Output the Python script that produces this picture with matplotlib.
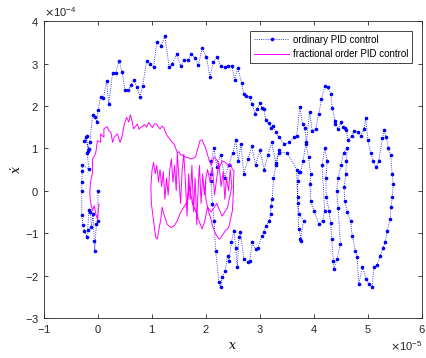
import numpy as np
import matplotlib
matplotlib.use("Agg")
import matplotlib.pyplot as plt
from matplotlib.ticker import ScalarFormatter

# ordinary PID control trajectory (x in 1e-5, xdot in 1e-4)
pid_x = [0.0, 0.0, -0.03, -0.06, -0.07, -0.09, -0.12, -0.14, -0.17, -0.19, -0.21, -0.25, -0.28, -0.3, -0.3,
         -0.3, -0.29, -0.29, -0.17, -0.2, -0.17, -0.23, -0.25, -0.21, -0.19, -0.15, -0.1, -0.06, -0.02, 0.0,
         0.05, 0.1, 0.16, 0.2, 0.27, 0.33, 0.39, 0.45, 0.5, 0.56, 0.62, 0.67, 0.72, 0.78, 0.83,
         0.9, 0.96, 1.03, 1.09, 1.17, 1.24, 1.32, 1.38, 1.46, 1.53, 1.59, 1.67, 1.73, 1.8, 1.86,
         1.93, 2.01, 2.07, 2.14, 2.21, 2.27, 2.35, 2.41, 2.48, 2.53, 2.59, 2.66, 2.7, 2.75, 2.81,
         2.86, 2.91, 2.95, 3.0, 3.04, 3.07, 3.11, 3.16, 3.21, 3.25, 3.29, 3.35, 3.45, 3.54, 3.63,
         3.68, 3.74, 3.79, 3.83, 3.86, 3.92, 3.97, 4.03, 4.09, 4.14, 4.2, 4.26, 4.31, 4.34, 4.39,
         4.4, 4.45, 4.5, 4.53, 4.57, 4.6, 4.63, 4.7, 4.75, 4.81, 4.87, 4.93, 4.96, 5.0, 5.05,
         5.1, 5.15, 5.2, 5.27, 5.3, 5.34, 5.38, 5.42, 5.45, 5.47, 5.45, 5.43, 5.41, 5.36, 5.32,
         5.28, 5.23, 5.17, 5.11, 5.08, 5.02, 4.97, 4.9, 4.83, 4.8, 4.77, 4.71, 4.68, 4.62, 4.57,
         4.56, 4.59, 4.6, 4.62, 4.55, 4.5, 4.45, 4.42, 4.45, 4.49, 4.43, 4.37, 4.36, 4.33, 4.31,
         4.28, 4.23, 4.22, 4.25, 4.2, 4.15, 4.2, 4.16, 4.09, 4.0, 3.94, 3.93, 3.94, 3.9, 3.85,
         3.8, 3.75, 3.72, 3.7, 3.7, 3.72, 3.81, 3.75, 3.77, 3.72, 3.7, 3.68, 3.5, 3.35, 3.3,
         3.25, 3.23, 3.2, 3.2, 3.17, 3.11, 3.07, 3.04, 2.96, 2.92, 2.86, 2.81, 2.77, 2.7, 2.64,
         2.61, 2.58, 2.55, 2.52, 2.47, 2.43, 2.4, 2.36, 2.3, 2.27, 2.24, 2.18, 2.15, 2.12, 2.09,
         2.09, 2.1, 2.15, 2.2, 2.27, 2.35, 2.42, 2.5, 2.55, 2.6, 2.65, 2.7, 2.78, 2.85, 2.92,
         3.0, 3.08, 3.15, 3.22, 3.29, 3.36]
pid_v = [0.0, -0.71, -0.79, -1.42, -1.18, -0.55, -0.85, -0.51, -0.46, -0.93, -1.08, -0.94, -0.8, -0.57, 0.0,
         0.21, 0.47, 0.61, 0.51, 0.9, 0.98, 1.26, 1.18, 1.28, 0.93, 1.16, 1.79, 1.73, 1.63, 1.9,
         2.22, 2.18, 2.59, 2.04, 2.77, 2.77, 3.07, 2.79, 2.37, 2.37, 2.5, 2.61, 2.44, 2.22, 2.48,
         3.05, 2.99, 2.91, 3.51, 3.42, 3.64, 2.91, 3.0, 3.22, 2.95, 3.08, 3.08, 3.22, 3.14, 2.96,
         3.36, 3.16, 2.69, 3.04, 3.16, 2.93, 2.91, 2.93, 2.95, 2.62, 2.89, 2.55, 2.28, 2.24, 2.2,
         2.04, 1.82, 1.93, 2.06, 1.95, 1.93, 1.67, 1.6, 1.49, 1.53, 1.38, 1.26, 1.1, 1.14, 1.26,
         1.3, 1.98, 1.57, 1.49, 1.14, 1.85, 1.4, 1.45, 1.81, 2.16, 2.46, 2.44, 2.28, 1.96, 1.65,
         1.57, 1.45, 1.61, 1.51, 1.49, 1.43, 1.19, 1.3, 1.4, 1.39, 1.3, 1.45, 1.71, 1.2, 0.9,
         0.7, 0.55, 0.7, 1.24, 1.43, 1.27, 1.0, 0.85, 0.39, 0.16, -0.16, -0.39, -0.67, -0.94, -1.22,
         -1.34, -1.53, -1.75, -1.81, -2.28, -2.2, -2.08, -1.81, -2.2, -1.57, -1.42, -1.06, -0.71, -0.51, -0.24,
         0.08, 0.39, 0.7, 1.0, 0.9, 0.6, 0.3, 0.0, -0.4, -1.26, -1.61, -1.85, -1.65, -1.14, -0.75,
         -0.47, -0.16, 0.3, 0.7, 1.0, 0.6, -0.47, -0.71, -0.79, -0.47, -0.24, 0.16, 0.39, 0.8, 1.1,
         0.7, 0.43, 0.43, 0.24, -0.16, -0.55, -0.71, -1.14, -1.18, -0.9, -0.3, 0.5, 0.9, 0.9, 0.6,
         0.3, -0.2, -0.35, -0.55, -0.71, -0.83, -0.98, -1.06, -1.34, -1.38, -1.22, -1.65, -1.67, -1.61, -0.98,
         -1.1, -1.81, -1.34, -0.94, -1.22, -1.65, -1.53, -1.89, -2.04, -2.28, -2.16, -1.42, -0.71, -0.31, 0.24,
         0.39, 0.7, 1.0, 0.55, 0.85, 0.3, 0.6, 0.9, 1.2, 0.7, 1.1, 0.4, 0.75, 1.05, 0.6,
         0.95, 0.5, 0.85, 1.15, 0.66, 0.95]

# fractional order PID control trajectory
fopid_x = [0.02, -0.01, -0.04, -0.07, -0.1, -0.14, -0.15, -0.14, -0.1, -0.1, -0.06, -0.04, -0.01, 0.05, 0.05,
           0.11, 0.11, 0.17, 0.2, 0.24, 0.27, 0.3, 0.36, 0.41, 0.45, 0.48, 0.53, 0.57, 0.6, 0.63,
           0.66, 0.7, 0.73, 0.76, 0.79, 0.83, 0.86, 0.9, 0.94, 0.97, 1.01, 1.05, 1.09, 1.12, 1.15,
           1.19, 1.22, 1.25, 1.28, 1.32, 1.35, 1.38, 1.41, 1.44, 1.47, 1.5, 1.53, 1.58, 1.62, 1.67,
           1.72, 1.77, 1.81, 1.85, 1.89, 1.93, 1.96, 1.99, 2.03, 2.06, 2.1, 2.15, 2.21, 2.25, 2.3,
           2.36, 2.41, 2.46, 2.49, 2.52, 2.51, 2.51, 2.5, 2.49, 2.46, 2.43, 2.4, 2.36, 2.33, 2.3,
           2.27, 2.24, 2.21, 2.18, 2.15, 2.12, 2.09, 2.06, 2.03, 2.0, 1.98, 2.0, 2.03, 2.08, 2.12,
           2.16, 2.2, 2.24, 2.28, 2.32, 2.35, 2.38, 2.42, 2.45, 2.48, 2.4, 2.3, 2.2, 2.1, 2.03,
           1.98, 1.93, 1.87, 1.81, 1.75, 1.69, 1.66, 1.59, 1.53, 1.47, 1.41, 1.35, 1.28, 1.22, 1.19,
           1.16, 1.13, 1.1, 1.07, 1.03, 0.99, 0.98, 1.0, 1.03, 1.06, 1.09, 1.12, 1.15, 1.18, 1.21,
           1.24, 1.27, 1.3, 1.33, 1.36, 1.39, 1.42, 1.45, 1.47, 1.5, 1.53, 1.56, 1.59, 1.62, 1.65,
           1.68, 1.71, 1.74, 1.77, 1.8, 1.83, 1.86, 1.88, 1.91, 1.94, 1.97, 2.0]
fopid_v = [-0.31, -0.67, -0.55, -0.35, -0.47, -0.27, -0.08, 0.2, 0.43, 0.75, 0.83, 0.9, 1.18, 1.14, 1.34,
           1.26, 1.46, 1.51, 1.42, 1.38, 1.14, 1.26, 1.34, 1.14, 1.3, 1.53, 1.73, 1.62, 1.79, 1.65,
           1.46, 1.52, 1.57, 1.45, 1.49, 1.52, 1.56, 1.5, 1.61, 1.55, 1.49, 1.58, 1.57, 1.5, 1.46,
           1.52, 1.49, 1.38, 1.3, 1.24, 1.18, 1.14, 1.1, 1.0, 0.9, 0.92, 0.85, 0.83, 0.79, 0.78,
           0.75, 0.77, 0.8, 1.0, 1.18, 1.2, 1.1, 1.02, 0.85, 0.71, 0.6, 0.8, 0.71, 0.55, 0.7,
           0.67, 0.6, 0.63, 0.5, 0.47, 0.2, 0.0, -0.25, -0.47, -0.65, -0.83, -0.9, -0.94, -1.0, -1.06,
           -1.12, -1.14, -1.08, -1.02, -0.92, -0.83, -0.65, -0.55, -0.39, -0.2, 0.05, 0.3, 0.5, 0.2, 0.55,
           -0.1, 0.3, 0.65, 0.1, 0.45, -0.2, 0.3, 0.0, 0.5, 0.1, -0.4, -0.6, -0.3, -0.5, -0.39,
           -0.71, -0.9, -0.71, -0.47, -0.31, 0.16, -0.24, -0.39, -0.51, -0.71, -0.83, -0.87, -0.79, -0.55, -0.39,
           -0.71, -0.9, -1.14, -1.1, -0.71, -0.31, 0.08, 0.47, 0.67, 0.4, 0.6, 0.2, 0.5, 0.1, 0.45,
           -0.2, 0.3, -0.1, 0.5, 0.75, 0.2, 0.6, 0.0, 0.9, 0.3, -0.3, 0.5, 0.86, 0.2, -0.6,
           0.4, -0.2, 0.6, -0.5, 0.3, -0.8, 0.2, 0.6, -0.3, 0.4, -0.1, 0.2]

plt.rcParams['font.family'] = ['Liberation Sans', 'DejaVu Sans']
plt.rcParams['font.size'] = 8

fig = plt.figure(figsize=(4.27, 3.58), dpi=100)
ax = fig.add_axes([0.103, 0.112, 0.885, 0.829])

ax.plot(np.array(pid_x) * 1e-5, np.array(pid_v) * 1e-4, color=(0, 0, 1), linestyle=':',
        linewidth=0.6, marker='.', markersize=3.2, label='ordinary PID control')
ax.plot(np.array(fopid_x) * 1e-5, np.array(fopid_v) * 1e-4, color=(1, 0, 1), linewidth=0.7,
        label='fractional order PID control')

ax.set_xlim(-1e-5, 6e-5)
ax.set_ylim(-3e-4, 4e-4)
ax.set_xticks(np.arange(-1, 7) * 1e-5)
ax.set_yticks(np.arange(-3, 5) * 1e-4)

for axis in (ax.xaxis, ax.yaxis):
    fmt = ScalarFormatter(useMathText=True)
    fmt.set_powerlimits((0, 0))
    axis.set_major_formatter(fmt)

ax.tick_params(direction='in', length=3, width=0.6, top=True, right=True,
               colors=(0.15, 0.15, 0.15), labelsize=8)
for s in ax.spines.values():
    s.set_linewidth(0.6)
    s.set_color((0.15, 0.15, 0.15))

ax.set_xlabel('x', family='DejaVu Serif', style='italic', fontsize=9, labelpad=3)
ax.set_ylabel('ẋ', family='DejaVu Serif', style='italic', fontsize=9, labelpad=1)

leg = ax.legend(loc='upper right', fontsize=7, handlelength=3.7, borderpad=0.4,
                labelspacing=0.45, handletextpad=0.35, fancybox=False, framealpha=1,
                borderaxespad=1.0)
leg.get_frame().set_edgecolor((0.15, 0.15, 0.15))
leg.get_frame().set_linewidth(0.6)

fig.savefig('out.png', dpi=100)
